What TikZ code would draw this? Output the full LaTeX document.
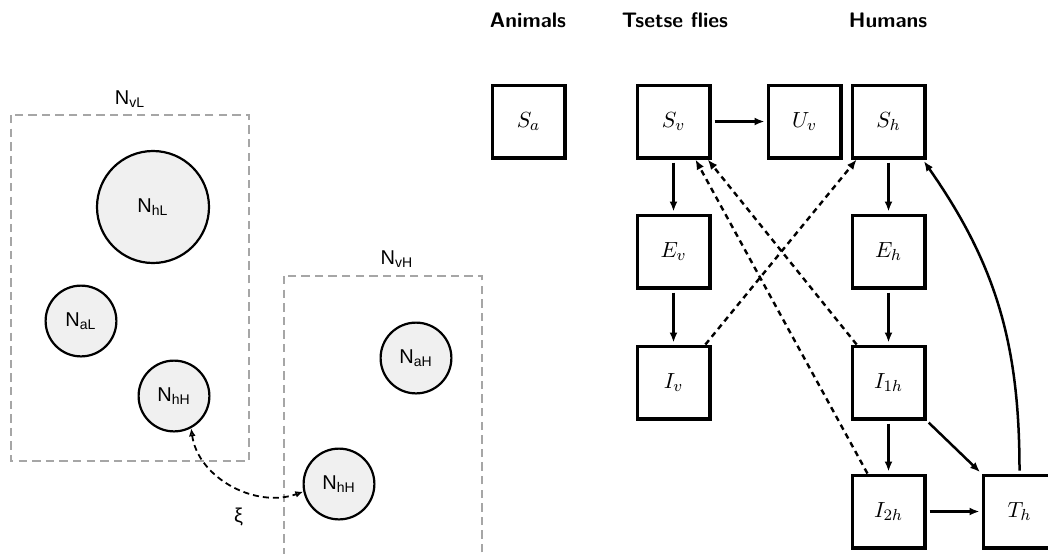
\documentclass[tikz,border=0pt]{standalone}
\usepackage{fontspec}
\newfontfamily\arialf{Liberation Sans}
\usetikzlibrary{arrows.meta,calc}
\begin{document}
\begin{tikzpicture}[x=0.5pt,y=-0.5pt,
  comp/.style={draw=black,line width=1.8pt,minimum size=36.2pt,inner sep=0pt,
    font=\fontsize{11}{13}\selectfont},
  pop/.style={draw=black,line width=1.1pt,fill=black!6,circle,inner sep=0pt,
    minimum size=35.4pt,font=\arialf\fontsize{10}{12}\selectfont},
  bigpop/.style={pop,minimum size=56pt},
  zone/.style={draw=black!35,line width=1.4pt,dash pattern=on 4.2pt off 2.6pt},
  zonelabel/.style={font=\arialf\fontsize{10}{12}\selectfont,inner sep=0pt},
  head/.style={font=\sffamily\bfseries\fontsize{10.5}{12}\selectfont,inner sep=0pt},
  flow/.style={-{Latex[length=5pt,width=4pt]},line width=1.25pt,shorten >=1pt,shorten <=1.5pt},
  contact/.style={-{Latex[length=5pt,width=4pt]},line width=1.2pt,dash pattern=on 2.8pt off 2.2pt},
  move/.style={{Latex[open,length=4pt,width=3.4pt]}-{Latex[open,length=4pt,width=3.4pt]},
    line width=0.9pt,dash pattern=on 3pt off 2pt}
]
\useasboundingbox (0,0) rectangle (1048,553);

% patches with low and high vector density
\draw[zone] (11,115) rectangle (249,461);
\draw[zone] (284,276) rectangle (482,560);
\node[zonelabel] (vL) at (130,99) {N\textsubscript{vL}};
\node[zonelabel] (vH) at (397,259) {N\textsubscript{vH}};

% host populations
\node[bigpop] (hL) at (153,207) {N\textsubscript{hL}};
\node[pop] (aL) at (81,321) {N\textsubscript{aL}};
\node[pop] (hHl) at (174,396) {N\textsubscript{hH}};
\node[pop] (aH) at (416,358) {N\textsubscript{aH}};
\node[pop] (hHr) at (339,484) {N\textsubscript{hH}};

\draw[move] (hHl.-62) to[out=-82,in=200]
  node[pos=0.55,below=6pt,font=\arialf\fontsize{10}{12}\selectfont] (xi) {ξ} (hHr.192);

% column headings
\node[head] (hA) at (528,20) {Animals};
\node[head] (hT) at (675,20) {Tsetse flies};
\node[head] (hHu) at (888,20) {Humans};

% compartments
\node[comp] (Sa) at (528.5,121.5) {$S_a$};
\node[comp] (Sv) at (673.5,121.5) {$S_v$};
\node[comp] (Uv) at (804.5,121.5) {$U_v$};
\node[comp] (Sh) at (888.5,121.5) {$S_h$};
\node[comp] (Ev) at (673.5,251.5) {$E_v$};
\node[comp] (Eh) at (888.5,251.5) {$E_h$};
\node[comp] (Iv) at (673.5,382.5) {$I_v$};
\node[comp] (I1h) at (888.5,382.5) {$I_{1h}$};
\node[comp] (I2h) at (888.5,511.5) {$I_{2h}$};
\node[comp] (Th) at (1019.5,511.5) {$T_h$};

% transitions
\draw[flow] (Sv) -- (Uv);
\draw[flow] (Sv) -- (Ev);
\draw[flow] (Ev) -- (Iv);
\draw[flow] (Sh) -- (Eh);
\draw[flow] (Eh) -- (I1h);
\draw[flow] (I1h) -- (I2h);
\draw[flow] (I1h.south east) -- (Th.north west);
\draw[flow] (I2h) -- (Th);
\draw[flow] (Th.north) to[out=90,in=-55] (Sh.-48);

% infection through bites
\draw[contact] (Iv.50) -- (Sh.-130);
\draw[contact] (I1h.130) -- (Sv.-48);
\draw[contact] (I2h.119) -- (Sv.-60);
\end{tikzpicture}
\end{document}
